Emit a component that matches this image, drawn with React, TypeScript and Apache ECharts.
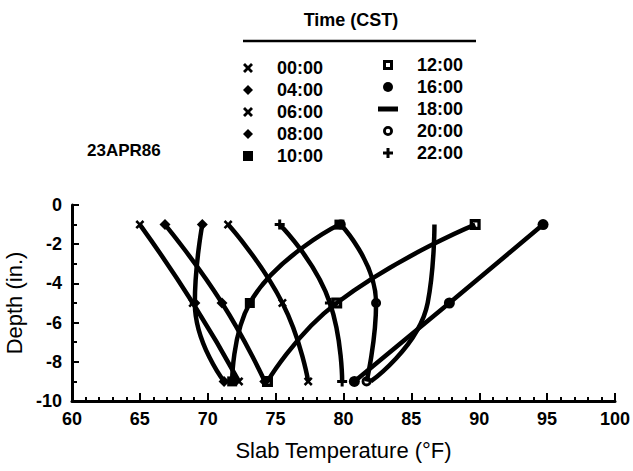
import React, { useEffect, useRef } from "react";
import * as echarts from "echarts";

const depths = [-1, -5, -9];
const times = ["00:00", "04:00", "06:00", "08:00", "10:00", "12:00", "16:00", "18:00", "20:00", "22:00"];
const t0000 = [71.5, 75.5, 77.4];
const t0400 = [66.85, 71.05, 74.2];
const t0600 = [65.0, 68.9, 72.3];
const t0800 = [69.6, 69.05, 71.2];
const t1000 = [79.7, 73.1, 71.8];
const t1200 = [89.7, 79.5, 74.4];
const t1600 = [94.7, 87.8, 80.8];
const t1800 = [86.7, 86.2, 82.0];
const t2000 = [79.8, 82.4, 81.7];
const t2200 = [75.3, 79.0, 79.9];
const temps = [t0000, t0400, t0600, t0800, t1000, t1200, t1600, t1800, t2000, t2200];

const X_PATH = "path://M0,2L2,0L5,3L8,0L10,2L7,5L10,8L8,10L5,7L2,10L0,8L3,5Z";
const PLUS_PATH = "path://M3.5,0L6.5,0L6.5,3.5L10,3.5L10,6.5L6.5,6.5L6.5,10L3.5,10L3.5,6.5L0,6.5L0,3.5L3.5,3.5Z";
const DIAMOND_PATH = "path://M5,0L10,5L5,10L0,5Z";
const RECT_PATH = "path://M0,0L10,0L10,10L0,10Z";
const OPEN_RECT_PATH = "path://M0,0L10,0L10,10L0,10ZM3,3L3,7L7,7L7,3Z";
const CIRCLE_PATH = "path://M5,0A5,5,0,1,1,5,10A5,5,0,1,1,5,0Z";
const OPEN_CIRCLE_PATH = "path://M5,0A5,5,0,1,1,5,10A5,5,0,1,1,5,0ZM5,2.8A2.2,2.2,0,1,0,5,7.2A2.2,2.2,0,1,0,5,2.8Z";
const DASH_PATH = "path://M0,0L20,0L20,5L0,5Z";

const symbols = [X_PATH, DIAMOND_PATH, X_PATH, DIAMOND_PATH, RECT_PATH, OPEN_RECT_PATH, CIRCLE_PATH, "none", OPEN_CIRCLE_PATH, PLUS_PATH];
const legendIcons = [X_PATH, DIAMOND_PATH, X_PATH, DIAMOND_PATH, RECT_PATH, OPEN_RECT_PATH, CIRCLE_PATH, DASH_PATH, OPEN_CIRCLE_PATH, PLUS_PATH];
const symbolSizes = [9, 11, 9, 11, 10, 11, 11, 0, 10, 10];

const FONT = "'Liberation Sans', Arial, sans-serif";

export default function App() {
  const ref = useRef<HTMLDivElement>(null);
  useEffect(() => {
    if (!ref.current) return;
    const chart = echarts.init(ref.current, undefined, { renderer: "svg" });
    const series = times.map((t, i) => ({
      name: t,
      type: "line",
      smooth: 0.5,
      symbol: symbols[i],
      symbolSize: symbolSizes[i],
      showSymbol: symbols[i] !== "none",
      data: temps[i].map((v, j) => [v, depths[j]]),
      lineStyle: { color: "#000", width: 4.5 },
      itemStyle: { color: "#000" },
      z: 2,
    }));
    const legendCommon = {
      orient: "vertical",
      itemWidth: 20,
      itemHeight: 10,
      itemGap: 2,
      selectedMode: false,
      textStyle: {
        fontFamily: FONT,
        fontSize: 18,
        fontWeight: "bold",
        color: "#000",
        lineHeight: 20,
        padding: [0, 0, 0, 14],
      },
    };
    chart.setOption({
      animation: false,
      backgroundColor: "#fff",
      grid: { left: 72, right: 18, top: 205, bottom: 70, containLabel: false, outerBoundsMode: "none" },
      xAxis: {
        type: "value",
        min: 60,
        max: 100,
        interval: 5,
        name: "Slab Temperature (°F)",
        nameLocation: "middle",
        nameGap: 38,
        nameTextStyle: { fontFamily: FONT, fontSize: 22, color: "#000" },
        axisLine: { show: true, onZero: false, lineStyle: { color: "#000", width: 3 } },
        axisTick: { show: true, inside: true, length: 8, lineStyle: { color: "#000", width: 2 } },
        minorTick: { show: true, splitNumber: 5, length: 4, lineStyle: { color: "#000", width: 2 } },
        axisLabel: { fontFamily: FONT, fontSize: 18, fontWeight: "bold", color: "#000", margin: 9 },
        splitLine: { show: false },
      },
      yAxis: {
        type: "value",
        min: -10,
        max: 0,
        interval: 2,
        name: "Depth (in.)",
        nameLocation: "middle",
        nameGap: 42,
        nameRotate: 90,
        nameTextStyle: { fontFamily: FONT, fontSize: 22, color: "#000" },
        axisLine: { show: true, onZero: false, lineStyle: { color: "#000", width: 3 } },
        axisTick: { show: true, inside: true, length: 7, lineStyle: { color: "#000", width: 2 } },
        minorTick: { show: true, splitNumber: 2, length: 5, lineStyle: { color: "#000", width: 2 } },
        axisLabel: { fontFamily: FONT, fontSize: 18, fontWeight: "bold", color: "#000", margin: 10 },
        splitLine: { show: false },
      },
      legend: [
        {
          ...legendCommon,
          left: 238,
          top: 53,
          data: times.slice(0, 5).map((t, i) => ({ name: t, icon: legendIcons[i] })),
        },
        {
          ...legendCommon,
          left: 373,
          top: 50,
          data: times.slice(5).map((t, i) => ({ name: t, icon: legendIcons[i + 5] })),
        },
      ],
      graphic: [
        {
          type: "text",
          x: 351,
          y: 20,
          style: {
            text: "Time (CST)",
            fontFamily: FONT,
            fontSize: 18,
            fontWeight: "bold",
            fill: "#000",
            align: "center",
            verticalAlign: "middle",
          },
        },
        {
          type: "line",
          shape: { x1: 243, y1: 41, x2: 476, y2: 41 },
          style: { stroke: "#000", lineWidth: 2.5 },
        },
        {
          type: "text",
          left: 87,
          top: 142,
          style: { text: "23APR86", fontFamily: FONT, fontSize: 17, fontWeight: "bold", fill: "#000" },
        },
      ],
      series,
    });
    return () => chart.dispose();
  }, []);
  return <div ref={ref} style={{ position: "fixed", left: 0, top: 0, width: 633, height: 471 }} />;
}
